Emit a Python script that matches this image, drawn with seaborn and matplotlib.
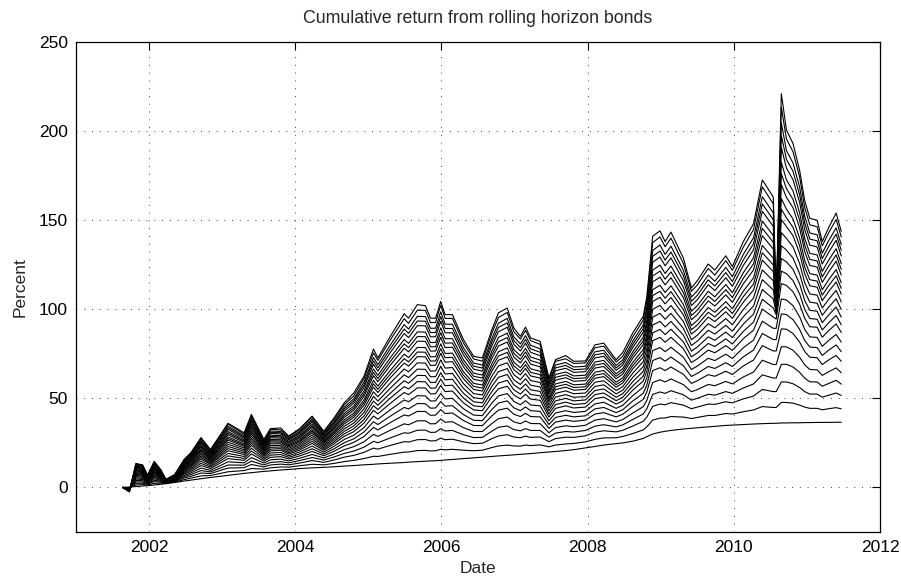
import matplotlib
matplotlib.use("Agg")
import matplotlib.pyplot as plt
import seaborn as sns
import pandas as pd

# Observation dates (decimal years)
year = [2001.64, 2001.73, 2001.82, 2001.91, 2001.98, 2002.07, 2002.16, 2002.23, 2002.35, 2002.48,
        2002.57, 2002.71, 2002.84, 2003.08, 2003.30, 2003.40, 2003.57, 2003.66, 2003.80, 2003.91,
        2004.06, 2004.23, 2004.39, 2004.53, 2004.67, 2004.80, 2004.94, 2005.07, 2005.13, 2005.30,
        2005.49, 2005.55, 2005.67, 2005.78, 2005.85, 2005.92, 2005.99, 2006.05, 2006.15, 2006.30,
        2006.44, 2006.56, 2006.69, 2006.78, 2006.90, 2006.99, 2007.08, 2007.15, 2007.22, 2007.35,
        2007.47, 2007.56, 2007.70, 2007.81, 2007.97, 2008.10, 2008.22, 2008.39, 2008.48, 2008.62,
        2008.76, 2008.81, 2008.89, 2008.99, 2009.06, 2009.14, 2009.31, 2009.42, 2009.50, 2009.65,
        2009.74, 2009.89, 2009.98, 2010.13, 2010.27, 2010.39, 2010.54, 2010.58, 2010.65, 2010.72,
        2010.81, 2010.90, 2010.97, 2011.04, 2011.14, 2011.21, 2011.30, 2011.40, 2011.47]

# Cumulative return (%) per rolling horizon, shortest (h01) to longest (h24)
h01 = [0.0, 0.2, 0.5, 0.8, 1.0, 1.4, 1.8, 2.1, 2.8, 3.6,
       4.1, 4.9, 5.6, 6.8, 7.9, 8.3, 9.0, 9.3, 9.8, 10.1,
       10.6, 11.0, 11.3, 11.6, 12.0, 12.3, 12.7, 13.0, 13.2, 13.6,
       14.0, 14.2, 14.5, 14.7, 14.9, 15.0, 15.2, 15.4, 15.7, 16.2,
       16.6, 17.0, 17.4, 17.7, 18.0, 18.3, 18.6, 18.8, 19.0, 19.5,
       19.9, 20.2, 20.7, 21.2, 22.2, 23.0, 23.8, 24.6, 25.0, 26.0,
       27.5, 28.5, 30.0, 31.0, 31.5, 32.0, 32.8, 33.2, 33.5, 34.0,
       34.3, 34.8, 35.0, 35.3, 35.6, 35.8, 36.0, 36.0, 36.2, 36.2,
       36.3, 36.3, 36.4, 36.4, 36.5, 36.5, 36.5, 36.6, 36.6]
h02 = [0.0, 0.0, 1.4, 1.6, 1.4, 2.3, 2.4, 2.3, 3.1, 4.4,
       5.2, 6.5, 6.7, 8.8, 9.5, 10.6, 10.3, 11.0, 11.5, 11.4,
       12.2, 13.0, 12.7, 13.5, 14.5, 15.2, 16.2, 17.5, 17.4, 18.6,
       19.8, 19.9, 20.7, 20.8, 20.5, 20.6, 21.4, 21.1, 21.4, 20.9,
       20.6, 20.9, 22.4, 23.3, 23.8, 23.3, 23.2, 23.8, 23.5, 23.9,
       22.8, 23.8, 24.4, 24.7, 25.6, 27.0, 27.8, 27.9, 28.6, 30.3,
       32.3, 34.0, 37.8, 38.9, 39.0, 39.8, 39.5, 38.7, 39.3, 40.4,
       40.4, 41.5, 41.2, 42.5, 43.5, 45.4, 44.9, 44.9, 47.7, 47.7,
       47.3, 46.2, 45.1, 44.4, 44.4, 43.6, 44.2, 44.8, 44.1]
h03 = [0.0, -0.2, 2.3, 2.4, 1.8, 3.3, 3.0, 2.4, 3.4, 5.3,
       6.2, 8.1, 7.8, 10.9, 11.1, 12.9, 11.5, 12.6, 13.1, 12.7,
       13.7, 15.1, 14.1, 15.4, 17.0, 18.0, 19.7, 22.1, 21.5, 23.6,
       25.7, 25.5, 26.8, 26.9, 26.1, 26.2, 27.7, 26.8, 27.1, 25.6,
       24.6, 24.8, 27.4, 28.9, 29.6, 28.3, 27.9, 28.8, 28.1, 28.3,
       25.7, 27.4, 28.2, 28.1, 29.0, 31.0, 31.8, 31.2, 32.1, 34.5,
       37.1, 39.5, 45.5, 46.8, 46.4, 47.6, 46.2, 44.2, 45.1, 46.8,
       46.6, 48.1, 47.5, 49.7, 51.3, 55.0, 53.8, 53.8, 59.2, 59.2,
       58.2, 56.1, 53.8, 52.4, 52.4, 50.7, 51.8, 53.0, 51.6]
h04 = [0.0, -0.3, 3.1, 3.1, 2.2, 4.1, 3.4, 2.6, 3.7, 6.0,
       7.2, 9.5, 8.7, 12.6, 12.5, 14.8, 12.6, 14.0, 14.5, 13.8,
       15.1, 16.8, 15.4, 17.1, 19.1, 20.4, 22.6, 25.9, 25.1, 27.8,
       30.7, 30.4, 32.1, 32.2, 30.9, 31.0, 33.0, 31.7, 32.0, 29.6,
       28.0, 28.1, 31.6, 33.8, 34.5, 32.5, 31.8, 33.0, 32.0, 32.0,
       28.2, 30.5, 31.4, 31.1, 32.0, 34.4, 35.2, 34.0, 35.1, 38.2,
       41.2, 44.2, 52.2, 53.6, 52.8, 54.3, 52.0, 49.0, 50.0, 52.3,
       51.8, 53.8, 52.8, 55.8, 58.1, 63.2, 61.4, 61.4, 69.1, 69.1,
       67.6, 64.6, 61.3, 59.3, 59.2, 56.8, 58.4, 60.1, 58.0]
h05 = [0.0, -0.5, 3.9, 3.8, 2.6, 4.9, 3.9, 2.7, 4.0, 6.7,
       8.1, 10.9, 9.6, 14.4, 13.8, 16.8, 13.7, 15.5, 15.9, 14.9,
       16.4, 18.5, 16.6, 18.7, 21.2, 22.9, 25.6, 29.8, 28.7, 32.1,
       35.7, 35.2, 37.4, 37.4, 35.7, 35.8, 38.4, 36.6, 36.9, 33.6,
       31.4, 31.4, 35.9, 38.6, 39.5, 36.8, 35.8, 37.3, 35.9, 35.8,
       30.7, 33.6, 34.6, 34.1, 34.9, 37.8, 38.6, 36.8, 38.1, 41.8,
       45.3, 48.9, 58.9, 60.4, 59.2, 60.9, 57.7, 53.7, 54.9, 57.8,
       57.1, 59.5, 58.1, 62.0, 64.8, 71.4, 69.0, 69.0, 79.0, 78.9,
       77.0, 73.1, 68.8, 66.2, 66.0, 62.9, 65.0, 67.1, 64.4]
h06 = [0.0, -0.7, 4.7, 4.5, 3.0, 5.7, 4.4, 2.8, 4.2, 7.4,
       9.0, 12.3, 10.6, 16.2, 15.2, 18.8, 14.8, 16.9, 17.3, 16.0,
       17.7, 20.2, 17.8, 20.3, 23.3, 25.3, 28.6, 33.7, 32.3, 36.4,
       40.7, 40.1, 42.7, 42.6, 40.5, 40.6, 43.7, 41.5, 41.8, 37.6,
       34.8, 34.7, 40.2, 43.4, 44.5, 41.1, 39.8, 41.6, 39.8, 39.6,
       33.2, 36.7, 37.8, 37.1, 37.8, 41.2, 42.0, 39.6, 41.1, 45.5,
       49.4, 53.6, 65.6, 67.2, 65.6, 67.6, 63.5, 58.4, 59.9, 63.3,
       62.4, 65.2, 63.4, 68.2, 71.5, 79.6, 76.6, 76.6, 89.0, 88.8,
       86.4, 81.6, 76.3, 73.1, 72.8, 69.0, 71.6, 74.1, 70.8]
h07 = [0.0, -0.8, 5.4, 5.1, 3.3, 6.4, 4.8, 2.9, 4.4, 8.0,
       9.8, 13.5, 11.4, 17.7, 16.3, 20.4, 15.7, 18.1, 18.5, 16.9,
       18.8, 21.7, 18.8, 21.7, 25.1, 27.3, 31.1, 36.9, 35.3, 40.0,
       44.9, 44.1, 47.1, 47.0, 44.5, 44.6, 48.2, 45.6, 45.9, 40.9,
       37.7, 37.5, 43.8, 47.4, 48.6, 44.7, 43.1, 45.2, 43.1, 42.7,
       35.3, 39.3, 40.5, 39.6, 40.2, 44.1, 44.9, 42.0, 43.6, 48.6,
       52.8, 57.5, 71.2, 72.9, 70.9, 73.2, 68.3, 62.3, 64.0, 67.9,
       66.8, 70.0, 67.9, 73.3, 77.1, 86.4, 83.0, 83.0, 97.4, 97.0,
       94.2, 88.7, 82.5, 78.8, 78.5, 74.1, 77.1, 80.0, 76.2]
h08 = [0.0, -0.9, 6.1, 5.7, 3.6, 7.1, 5.2, 3.0, 4.6, 8.6,
       10.6, 14.7, 12.2, 19.1, 17.4, 22.0, 16.6, 19.3, 19.7, 17.8,
       19.9, 23.2, 19.8, 23.1, 26.9, 29.3, 33.6, 40.1, 38.3, 43.6,
       49.1, 48.1, 51.5, 51.4, 48.5, 48.6, 52.7, 49.7, 50.0, 44.2,
       40.6, 40.3, 47.4, 51.4, 52.7, 48.3, 46.4, 48.7, 46.3, 45.8,
       37.4, 41.8, 43.1, 42.1, 42.7, 46.9, 47.8, 44.4, 46.1, 51.6,
       56.3, 61.5, 76.8, 78.5, 76.2, 78.7, 73.1, 66.2, 68.1, 72.5,
       71.2, 74.8, 72.4, 78.4, 82.7, 93.3, 89.3, 89.3, 105.8, 105.2,
       102.0, 95.8, 88.7, 84.5, 84.2, 79.2, 82.6, 85.9, 81.6]
h09 = [0.0, -1.0, 6.8, 6.3, 3.9, 7.8, 5.6, 3.1, 4.8, 9.2,
       11.4, 15.9, 13.0, 20.6, 18.5, 23.6, 17.5, 20.5, 20.9, 18.7,
       21.0, 24.7, 20.8, 24.5, 28.7, 31.3, 36.1, 43.3, 41.3, 47.2,
       53.3, 52.1, 55.9, 55.8, 52.5, 52.6, 57.2, 53.8, 54.1, 47.5,
       43.5, 43.1, 51.0, 55.4, 56.8, 51.9, 49.7, 52.3, 49.6, 48.9,
       39.5, 44.4, 45.8, 44.6, 45.1, 49.8, 50.7, 46.8, 48.6, 54.7,
       59.7, 65.4, 82.4, 84.2, 81.5, 84.3, 77.9, 70.1, 72.2, 77.1,
       75.6, 79.6, 76.9, 83.5, 88.3, 100.1, 95.6, 94.5, 114.4, 113.4,
       109.8, 102.9, 94.9, 90.2, 89.9, 84.3, 88.1, 91.8, 87.0]
h10 = [0.0, -1.1, 7.3, 6.8, 4.1, 8.3, 5.9, 3.2, 5.0, 9.7,
       12.0, 16.8, 13.6, 21.8, 19.4, 24.9, 18.2, 21.5, 21.8, 19.5,
       21.9, 25.9, 21.6, 25.6, 30.1, 32.9, 38.1, 45.9, 43.7, 50.1,
       56.6, 55.3, 59.4, 59.3, 55.7, 55.8, 60.8, 57.1, 57.4, 50.2,
       45.8, 45.3, 53.9, 58.6, 60.1, 54.8, 52.4, 55.2, 52.2, 51.4,
       41.2, 46.5, 47.9, 46.6, 47.1, 52.1, 53.0, 48.7, 50.6, 57.1,
       62.4, 68.5, 86.8, 88.7, 85.8, 88.8, 81.7, 73.3, 75.5, 80.8,
       79.1, 83.4, 80.5, 87.6, 92.8, 105.6, 100.7, 97.0, 121.4, 120.0,
       116.1, 108.6, 99.9, 94.8, 94.4, 88.4, 92.5, 96.5, 91.3]
h11 = [0.0, -1.2, 7.8, 7.3, 4.3, 8.8, 6.2, 3.3, 5.2, 10.2,
       12.6, 17.7, 14.2, 23.0, 20.3, 26.2, 18.9, 22.5, 22.7, 20.3,
       22.8, 27.1, 22.4, 26.7, 31.5, 34.5, 40.1, 48.5, 46.1, 52.9,
       59.9, 58.5, 62.9, 62.8, 58.9, 59.0, 64.4, 60.4, 60.7, 52.9,
       48.1, 47.5, 56.8, 61.8, 63.4, 57.6, 55.1, 58.1, 54.8, 53.9,
       42.9, 48.6, 50.0, 48.6, 49.1, 54.4, 55.3, 50.6, 52.6, 59.5,
       65.1, 71.6, 91.2, 93.2, 90.1, 93.2, 85.5, 76.5, 78.8, 84.5,
       82.6, 87.2, 84.1, 91.7, 97.3, 111.1, 105.8, 97.8, 128.5, 126.6,
       122.4, 114.3, 104.9, 99.4, 98.9, 92.5, 96.9, 101.2, 95.6]
h12 = [0.0, -1.3, 8.3, 7.8, 4.5, 9.3, 6.5, 3.4, 5.4, 10.7,
       13.2, 18.6, 14.8, 24.2, 21.2, 27.5, 19.6, 23.5, 23.6, 21.1,
       23.7, 28.3, 23.2, 27.8, 32.9, 36.1, 42.1, 51.1, 48.5, 55.7,
       63.2, 61.7, 66.4, 66.3, 62.1, 62.2, 68.0, 63.7, 64.0, 55.6,
       50.4, 49.7, 59.6, 65.0, 66.7, 60.4, 57.8, 61.0, 57.4, 56.4,
       44.6, 50.7, 52.1, 50.6, 51.0, 56.7, 57.6, 52.5, 54.6, 61.9,
       67.8, 74.7, 95.6, 97.7, 94.4, 97.7, 89.3, 79.7, 82.1, 88.2,
       86.1, 91.0, 87.7, 95.8, 101.8, 116.6, 110.9, 98.5, 135.7, 133.2,
       128.7, 120.0, 109.9, 104.0, 103.4, 96.6, 101.3, 105.9, 99.9]
h13 = [0.0, -1.4, 8.8, 8.3, 4.7, 9.8, 6.8, 3.5, 5.6, 11.2,
       13.8, 19.5, 15.4, 25.4, 22.1, 28.8, 20.3, 24.5, 24.5, 21.9,
       24.6, 29.5, 24.0, 28.9, 34.3, 37.7, 44.1, 53.7, 50.9, 58.6,
       66.5, 64.9, 69.9, 69.8, 65.3, 65.4, 71.6, 67.0, 67.3, 58.3,
       52.7, 51.9, 62.5, 68.2, 70.0, 63.3, 60.5, 63.9, 60.0, 58.9,
       46.3, 52.8, 54.2, 52.6, 53.0, 59.0, 59.9, 54.4, 56.6, 64.3,
       70.5, 77.8, 100.0, 102.2, 98.7, 102.1, 93.1, 82.9, 85.4, 91.9,
       89.6, 94.8, 91.3, 99.9, 106.3, 122.1, 116.0, 99.2, 143.0, 139.8,
       135.0, 125.7, 114.9, 108.6, 107.9, 100.7, 105.7, 110.6, 104.2]
h14 = [0.0, -1.5, 9.3, 8.8, 4.9, 10.3, 7.1, 3.6, 5.8, 11.7,
       14.4, 20.4, 16.0, 26.6, 23.0, 30.1, 21.0, 25.5, 25.4, 22.7,
       25.5, 30.7, 24.8, 30.0, 35.7, 39.3, 46.1, 56.3, 53.3, 61.5,
       69.8, 68.1, 73.4, 73.3, 68.5, 68.6, 75.2, 70.3, 70.6, 61.0,
       55.0, 54.1, 65.3, 71.4, 73.3, 66.1, 63.2, 66.8, 62.6, 61.4,
       48.0, 54.9, 56.3, 54.6, 55.0, 61.3, 62.2, 56.3, 58.6, 66.7,
       73.2, 80.9, 104.4, 106.7, 103.0, 106.6, 96.9, 86.1, 88.7, 95.6,
       93.1, 98.6, 94.9, 104.0, 110.8, 127.6, 121.1, 99.8, 150.4, 146.4,
       141.3, 131.4, 119.9, 113.2, 112.4, 104.8, 110.1, 115.3, 108.5]
h15 = [0.0, -1.6, 9.7, 9.2, 5.1, 10.7, 7.3, 3.7, 5.9, 12.1,
       14.9, 21.1, 16.5, 27.5, 23.7, 31.1, 21.5, 26.2, 26.1, 23.3,
       26.2, 31.6, 25.4, 30.8, 36.8, 40.5, 47.6, 58.2, 55.1, 63.6,
       72.3, 70.5, 76.0, 75.9, 70.9, 71.0, 77.9, 72.8, 73.0, 63.0,
       56.7, 55.8, 67.4, 73.8, 75.8, 68.2, 65.2, 68.9, 64.6, 63.3,
       49.3, 56.5, 57.9, 56.1, 56.5, 63.0, 63.9, 57.7, 60.1, 68.5,
       75.3, 83.3, 107.7, 110.1, 106.2, 109.9, 99.8, 88.5, 91.2, 98.3,
       95.7, 101.4, 97.6, 107.1, 114.2, 131.7, 124.9, 100.4, 156.2, 151.3,
       146.0, 135.7, 123.6, 116.6, 115.8, 107.9, 113.4, 118.8, 111.7]
h16 = [0.0, -1.7, 10.1, 9.6, 5.3, 11.1, 7.6, 3.8, 6.0, 12.5,
       15.4, 21.8, 17.0, 28.4, 24.4, 32.1, 22.0, 26.9, 26.8, 23.9,
       26.9, 32.5, 26.0, 31.6, 37.9, 41.7, 49.1, 60.1, 56.9, 65.7,
       74.8, 72.9, 78.6, 78.5, 73.3, 73.4, 80.6, 75.2, 75.4, 65.0,
       58.4, 57.5, 69.5, 76.2, 78.3, 70.3, 67.2, 71.0, 66.6, 65.2,
       50.5, 58.1, 59.5, 57.6, 58.0, 64.7, 65.6, 59.1, 61.6, 70.3,
       77.4, 85.7, 111.0, 113.5, 109.4, 113.2, 102.7, 90.9, 93.7, 101.0,
       98.3, 104.3, 100.3, 110.2, 117.6, 135.8, 128.7, 101.0, 162.2, 156.2,
       150.7, 140.0, 127.3, 120.0, 119.2, 111.0, 116.7, 122.3, 114.9]
h17 = [0.0, -1.8, 10.6, 10.1, 5.5, 11.6, 7.9, 3.9, 6.2, 13.0,
       16.0, 22.7, 17.6, 29.6, 25.3, 33.4, 22.7, 27.9, 27.7, 24.7,
       27.8, 33.7, 26.8, 32.7, 39.3, 43.3, 51.1, 62.7, 59.3, 68.6,
       78.1, 76.1, 82.1, 82.0, 76.5, 76.6, 84.2, 78.5, 78.7, 67.7,
       60.7, 59.7, 72.4, 79.4, 81.6, 73.2, 69.9, 73.9, 69.2, 67.7,
       52.2, 60.2, 61.6, 59.6, 60.0, 67.0, 67.9, 61.0, 63.6, 72.7,
       80.1, 88.8, 115.4, 118.0, 113.7, 117.7, 106.5, 94.1, 97.0, 104.7,
       101.8, 108.1, 103.9, 114.3, 122.1, 141.3, 133.8, 101.5, 170.0, 162.8,
       157.0, 145.7, 132.3, 124.6, 123.7, 115.1, 121.1, 127.0, 119.2]
h18 = [0.0, -1.9, 11.0, 10.5, 5.7, 12.0, 8.2, 4.0, 6.3, 13.4,
       16.5, 23.4, 18.1, 30.5, 26.0, 34.4, 23.2, 28.6, 28.4, 25.3,
       28.5, 34.6, 27.4, 33.5, 40.4, 44.5, 52.6, 64.6, 61.1, 70.7,
       80.6, 78.5, 84.7, 84.6, 78.9, 79.0, 86.9, 81.0, 81.1, 69.7,
       62.4, 61.4, 74.5, 81.8, 84.1, 75.3, 71.9, 76.0, 71.2, 69.6,
       53.4, 61.8, 63.2, 61.1, 61.5, 68.7, 69.6, 62.4, 65.1, 74.5,
       82.2, 91.2, 118.7, 121.4, 116.9, 121.0, 109.4, 96.5, 99.5, 107.4,
       104.4, 111.0, 106.6, 117.4, 125.5, 145.4, 137.6, 102.0, 176.1, 167.7,
       161.7, 150.0, 136.0, 128.0, 127.1, 118.2, 124.4, 130.5, 122.4]
h19 = [0.0, -2.0, 11.4, 10.9, 5.9, 12.4, 8.5, 4.1, 6.4, 13.8,
       17.0, 24.1, 18.6, 31.4, 26.7, 35.4, 23.7, 29.3, 29.1, 25.9,
       29.2, 35.5, 28.0, 34.3, 41.5, 45.7, 54.1, 66.5, 62.9, 72.8,
       83.1, 80.9, 87.3, 87.2, 81.3, 81.4, 89.6, 83.5, 83.5, 71.7,
       64.1, 63.1, 76.6, 84.2, 86.6, 77.4, 73.9, 78.1, 73.2, 71.5,
       54.7, 63.4, 64.8, 62.6, 63.0, 70.4, 71.3, 63.8, 66.6, 76.3,
       84.3, 93.6, 122.0, 124.8, 120.1, 124.3, 112.3, 98.9, 102.0, 110.1,
       107.0, 113.9, 109.3, 120.5, 128.9, 149.5, 141.4, 102.5, 182.5, 172.6,
       166.4, 154.3, 139.7, 131.4, 130.5, 121.3, 127.7, 134.0, 125.6]
h20 = [0.0, -2.1, 11.9, 11.4, 6.1, 12.9, 8.8, 4.2, 6.6, 14.3,
       17.6, 25.0, 19.2, 32.6, 27.6, 36.7, 24.4, 30.3, 30.0, 26.7,
       30.1, 36.7, 28.8, 35.4, 42.9, 47.3, 56.1, 69.1, 65.3, 75.7,
       86.4, 84.1, 90.8, 90.7, 84.5, 84.6, 93.2, 86.8, 86.8, 74.4,
       66.4, 65.3, 79.5, 87.4, 89.9, 80.3, 76.6, 81.0, 75.8, 74.0,
       56.4, 65.5, 66.9, 64.6, 65.0, 72.7, 73.6, 65.7, 68.6, 78.7,
       87.0, 96.7, 126.4, 129.3, 124.4, 128.8, 116.1, 102.1, 105.3, 113.8,
       110.5, 117.7, 112.9, 124.6, 133.4, 155.0, 146.5, 103.0, 190.9, 179.2,
       172.7, 160.0, 144.7, 136.0, 135.0, 125.4, 132.1, 138.7, 129.9]
h21 = [0.0, -2.2, 12.3, 11.8, 6.3, 13.3, 9.1, 4.3, 6.7, 14.7,
       18.1, 25.7, 19.7, 33.5, 28.3, 37.7, 24.9, 31.0, 30.7, 27.3,
       30.8, 37.6, 29.4, 36.2, 44.0, 48.5, 57.6, 71.0, 67.1, 77.8,
       88.9, 86.5, 93.4, 93.3, 86.9, 87.0, 95.9, 89.2, 89.2, 76.4,
       68.1, 67.0, 81.6, 89.8, 92.4, 82.4, 78.6, 83.1, 77.8, 75.9,
       57.7, 67.1, 68.5, 66.1, 66.5, 74.4, 75.3, 67.1, 70.1, 80.5,
       89.1, 99.1, 129.7, 132.7, 127.6, 132.1, 119.0, 104.5, 107.8, 116.5,
       113.1, 120.6, 115.6, 127.7, 136.8, 159.1, 150.3, 103.4, 197.5, 184.1,
       177.4, 164.3, 148.4, 139.4, 138.4, 128.5, 135.4, 142.2, 133.1]
h22 = [0.0, -2.3, 12.7, 12.2, 6.5, 13.7, 9.4, 4.4, 6.8, 15.1,
       18.6, 26.4, 20.2, 34.4, 29.0, 38.7, 25.4, 31.7, 31.4, 27.9,
       31.5, 38.5, 30.0, 37.0, 45.1, 49.7, 59.1, 72.9, 68.9, 79.9,
       91.4, 88.9, 96.0, 95.9, 89.3, 89.4, 98.6, 91.6, 91.6, 78.4,
       69.8, 68.7, 83.7, 92.2, 94.9, 84.5, 80.6, 85.2, 79.8, 77.8,
       58.9, 68.7, 70.1, 67.6, 68.0, 76.1, 77.0, 68.5, 71.6, 82.3,
       91.2, 101.5, 133.0, 136.1, 130.8, 135.4, 121.9, 106.9, 110.3, 119.2,
       115.7, 123.5, 118.3, 130.8, 140.2, 163.2, 154.1, 103.8, 204.6, 189.0,
       182.1, 168.6, 152.1, 142.8, 141.8, 131.5, 138.7, 145.7, 136.3]
h23 = [0.0, -2.4, 13.2, 12.7, 6.7, 14.2, 9.7, 4.5, 7.0, 15.6,
       19.2, 27.3, 20.8, 35.6, 29.9, 40.0, 26.1, 32.7, 32.3, 28.7,
       32.4, 39.7, 30.8, 38.1, 46.5, 51.3, 61.1, 75.5, 71.3, 82.8,
       94.7, 92.1, 99.5, 99.4, 92.5, 92.6, 102.2, 94.9, 94.9, 81.1,
       72.1, 70.9, 86.6, 95.4, 98.2, 87.4, 83.3, 88.1, 82.4, 80.3,
       60.6, 70.8, 72.2, 69.6, 69.9, 78.4, 79.3, 70.4, 73.6, 84.7,
       93.9, 104.6, 137.4, 140.6, 135.1, 139.9, 125.7, 110.1, 113.6, 122.9,
       119.2, 127.3, 121.9, 134.9, 144.7, 168.7, 159.2, 104.2, 213.4, 195.6,
       188.4, 174.3, 157.1, 147.4, 146.3, 135.6, 143.1, 150.4, 140.6]
h24 = [0.0, -2.5, 13.5, 12.5, 7.0, 14.7, 10.0, 4.5, 7.3, 15.7,
       19.4, 28.0, 21.3, 36.0, 30.7, 41.0, 27.0, 33.0, 33.4, 28.8,
       33.0, 40.0, 31.6, 39.0, 47.5, 53.0, 62.4, 77.7, 72.7, 84.8,
       97.5, 95.0, 102.6, 102.0, 95.0, 95.0, 104.4, 97.0, 97.0, 83.0,
       73.6, 72.7, 88.6, 98.0, 100.7, 89.5, 84.8, 90.0, 83.9, 82.0,
       61.5, 71.7, 74.0, 70.8, 71.0, 80.0, 81.0, 71.7, 75.7, 86.9,
       96.0, 107.0, 141.0, 144.0, 138.0, 143.3, 128.7, 112.0, 116.0, 125.4,
       122.0, 130.0, 124.0, 138.0, 148.0, 172.6, 163.0, 104.6, 221.0, 200.6,
       193.0, 178.0, 161.0, 151.0, 150.0, 138.0, 146.0, 154.0, 143.7]

horizons = {
    'h01': h01, 'h02': h02, 'h03': h03, 'h04': h04, 'h05': h05, 'h06': h06,
    'h07': h07, 'h08': h08, 'h09': h09, 'h10': h10, 'h11': h11, 'h12': h12,
    'h13': h13, 'h14': h14, 'h15': h15, 'h16': h16, 'h17': h17, 'h18': h18,
    'h19': h19, 'h20': h20, 'h21': h21, 'h22': h22, 'h23': h23, 'h24': h24,
}

sns.set_theme(style="white")
plt.rcParams['font.family'] = ['Liberation Sans', 'DejaVu Sans']

fig = plt.figure(figsize=(9.01, 5.81), dpi=100)
ax = fig.add_axes([76 / 901, 1 - 532 / 581, (880 - 76) / 901, (532 - 42) / 581])

df = pd.DataFrame({'year': year, **horizons})
long = df.melt(id_vars='year', var_name='horizon', value_name='pct')
sns.lineplot(data=long, x='year', y='pct', units='horizon', estimator=None,
             color='black', lw=0.8, ax=ax, sort=False, legend=False)

ax.set_xlim(2001, 2012)
ax.set_ylim(-25, 250)
ax.set_xticks(range(2002, 2013, 2))
ax.set_yticks(range(0, 251, 50))
ax.grid(True, color='#444444', linestyle=(0, (1, 7)), lw=0.7)
ax.tick_params(direction='in', length=6, width=0.8, top=True, right=True,
               labelsize=12.5, pad=6, colors='black')
for s in ax.spines.values():
    s.set_linewidth(0.9)
    s.set_color('black')

ax.set_title('Cumulative return from rolling horizon bonds', fontsize=12.8, pad=14)
ax.set_xlabel('Date', fontsize=12.5, labelpad=4)
ax.set_ylabel('Percent', fontsize=12.5, labelpad=8)

fig.savefig('out.png', dpi=100)
